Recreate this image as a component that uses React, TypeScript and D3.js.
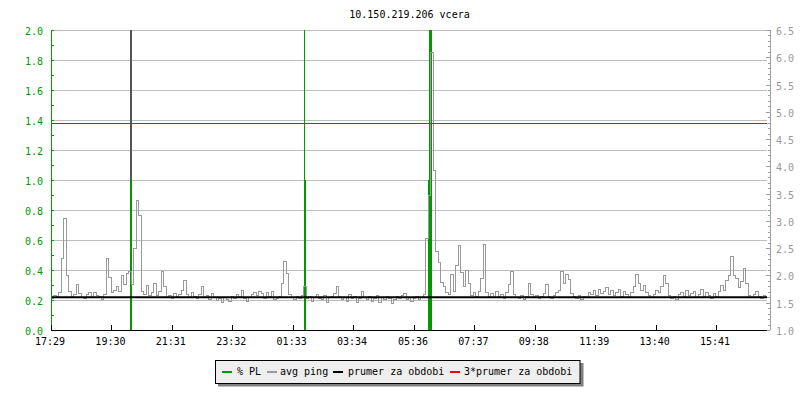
import React from "react";
import * as d3 from "d3";

const title = "10.150.219.206 vcera";

const xTickMinutes = [0, 121, 242, 363, 484, 605, 727, 848, 969, 1090, 1211, 1332];
const xTickLabels = ["17:29", "19:30", "21:31", "23:32", "01:33", "03:34", "05:36", "07:37", "09:38", "11:39", "13:40", "15:41"];
const leftTicks = [0, 0.2, 0.4, 0.6, 0.8, 1.0, 1.2, 1.4, 1.6, 1.8, 2.0];
const rightTicks = [1.0, 1.5, 2.0, 2.5, 3.0, 3.5, 4.0, 4.5, 5.0, 5.5, 6.0, 6.5];

const sampleMinutes = 5;
// avg ping (right axis), one value per 5-minute sample
const avgPing = [
  1.58, 1.64, 1.62, 1.70, 2.32, 3.05, 2.00, 1.72, 1.62, 1.66,
  1.84, 1.68, 1.60, 1.58, 1.66, 1.70, 1.60, 1.70, 1.64, 1.62,
  1.57, 1.66, 2.32, 1.98, 1.70, 1.74, 1.80, 1.72, 2.00, 1.85,
  2.04, 2.08, 1.85, 2.50, 3.38, 3.10, 1.72, 1.66, 1.82, 1.64,
  1.70, 1.86, 1.64, 1.72, 2.09, 1.80, 1.60, 1.64, 1.58, 1.68,
  1.62, 1.66, 1.74, 1.92, 1.66, 1.60, 1.70, 1.62, 1.58, 1.66,
  1.80, 1.60, 1.64, 1.57, 1.68, 1.60, 1.55, 1.58, 1.52, 1.60,
  1.56, 1.54, 1.62, 1.58, 1.66, 1.62, 1.73, 1.58, 1.54, 1.60,
  1.66, 1.70, 1.64, 1.72, 1.68, 1.58, 1.70, 1.62, 1.71, 1.56,
  1.58, 1.62, 1.87, 2.27, 2.04, 1.66, 1.60, 1.56, 1.62, 1.58,
  1.64, 1.81, 1.58, 1.62, 1.54, 1.60, 1.66, 1.58, 1.56, 1.64,
  1.52, 1.60, 1.62, 1.68, 1.81, 1.62, 1.56, 1.60, 1.54, 1.66,
  1.58, 1.62, 1.52, 1.58, 1.72, 1.60, 1.56, 1.62, 1.54, 1.58,
  1.64, 1.52, 1.60, 1.56, 1.62, 1.58, 1.50, 1.56, 1.62, 1.58,
  1.64, 1.68, 1.56, 1.60, 1.54, 1.58, 1.62, 1.56, 1.60, 1.66,
  2.68, 3.48, 6.10, 3.93, 2.45, 2.25, 1.88, 1.80, 1.70, 1.66,
  2.03, 1.72, 2.19, 2.56, 2.07, 1.80, 2.10, 1.86, 1.64, 1.70,
  1.62, 1.72, 1.95, 2.57, 1.70, 1.62, 1.68, 1.60, 1.72, 1.62,
  1.66, 1.58, 1.70, 1.84, 2.08, 1.66, 1.60, 1.58, 1.64, 1.56,
  1.62, 1.86, 1.66, 1.60, 1.64, 1.58, 1.62, 1.68, 1.84, 1.62,
  1.58, 1.64, 1.70, 1.74, 2.08, 1.86, 2.02, 1.94, 1.68, 1.62,
  1.58, 1.64, 1.56, 1.62, 1.60, 1.70, 1.66, 1.74, 1.64, 1.76,
  1.68, 1.72, 1.78, 1.66, 1.74, 1.64, 1.70, 1.76, 1.62, 1.72,
  1.66, 1.60, 1.70, 1.80, 2.02, 1.86, 1.74, 1.82, 1.70, 1.64,
  1.60, 1.66, 1.74, 1.70, 1.80, 2.00, 1.87, 1.64, 1.58, 1.62,
  1.56, 1.66, 1.70, 1.62, 1.74, 1.64, 1.68, 1.72, 1.60, 1.66,
  1.76, 1.62, 1.70, 1.64, 1.58, 1.68, 1.62, 1.72, 1.83, 1.74,
  1.92, 2.00, 2.35, 2.00, 1.95, 1.78, 1.90, 2.14, 1.86, 1.64,
  1.60, 1.66, 1.72, 1.62, 1.58, 1.64, 1.60,
];

// short off-scale ping spike (right axis)
const spikeMinute = [159];
const spikeWidthMinutes = [2];
const spikeValue = [9.0];

// % packet loss events (left axis)
const plStart = [158, 506.7, 506.7, 754.5, 757];
const plDuration = [4, 2, 4, 2.6, 6.6];
const plValue = [1.0, 5.0, 1.0, 1.0, 5.0];

const periodAvg = 1.6;
const periodAvgFactor = 3;

const legendLabels = ["% PL", "avg ping", "prumer za obdobi", "3*prumer za obdobi"];
const legendColors = ["#009a00", "#999999", "#000000", "#ff0000"];
const legendSwatchX = [222, 267, 333, 450];
const legendTextX = [237, 280, 348, 464];

const FONT = "'DejaVu Sans Mono', monospace";

export default function App() {
  const left = 51, right = 767, top = 30, bottom = 330;
  const x = d3.scaleLinear().domain([0, 1434]).range([left, right]);
  const yL = d3.scaleLinear().domain([0, 2]).range([bottom, top]);
  const yR = d3.scaleLinear().domain([1, 6.5]).range([bottom, top]);

  const pts: [number, number][] = avgPing.map((v, i) => [i * sampleMinutes, v]);
  pts.push([avgPing.length * sampleMinutes, avgPing[avgPing.length - 1]]);
  const line = d3
    .line<[number, number]>()
    .x((d) => Math.round(x(d[0])) + 0.5)
    .y((d) => Math.round(yR(d[1])) + 0.5)
    .curve(d3.curveStepAfter);

  const spikePaths = spikeMinute.map((m, i) => {
    const base = avgPing[Math.floor(m / sampleMinutes)];
    const p: [number, number][] = [
      [m, base],
      [m, spikeValue[i]],
      [m + spikeWidthMinutes[i], base],
      [m + spikeWidthMinutes[i], base],
    ];
    return line(p) || "";
  });

  const leftMinor = d3.range(0, 2.0001, 0.1);
  const rightMinor = d3.range(1, 6.5001, 0.1);

  return (
    <div style={{ position: "absolute", left: 0, top: 0 }}>
      <svg width={800} height={400} style={{ display: "block", background: "#fff" }}>
        <defs>
          <clipPath id="plot">
            <rect x={left} y={top} width={right - left + 1} height={bottom - top} />
          </clipPath>
        </defs>
        <rect x={0} y={0} width={800} height={400} fill="#fff" />
        <text x={409.5} y={18} textAnchor="middle" fontFamily={FONT} fontSize={10} fill="#000">
          {title}
        </text>

        {/* gridlines */}
        {leftTicks.map((t) => (
          <line key={"g" + t} x1={left} x2={right} y1={Math.round(yL(t)) + 0.5} y2={Math.round(yL(t)) + 0.5}
            stroke="#bdbdbd" strokeWidth={1} shapeRendering="crispEdges" />
        ))}

        {/* PL bars, avg ping, period average lines */}
        <g clipPath="url(#plot)">
          {spikePaths.map((d, i) => (
            <path key={"sp" + i} d={d} fill="none" stroke="#555555" strokeWidth={1} shapeRendering="crispEdges" />
          ))}
          {plStart.map((s, i) => (
            <rect key={"pl" + i} x={Math.round(x(s))} y={yL(Math.min(plValue[i], 2.1))}
              width={Math.max(1, Math.round(x(s + plDuration[i]) - x(s)))}
              height={bottom - yL(Math.min(plValue[i], 2.1))} fill="#009a00" shapeRendering="crispEdges" />
          ))}
          <path d={line(pts) || ""} fill="none" stroke="#999999" strokeWidth={1} shapeRendering="crispEdges" />
          <line x1={left} x2={right} y1={yR(periodAvg)} y2={yR(periodAvg)} stroke="#000" strokeWidth={2} />
          <line x1={left} x2={right} y1={Math.round(yR(periodAvg * periodAvgFactor)) + 0.5}
            y2={Math.round(yR(periodAvg * periodAvgFactor)) + 0.5} stroke="#ff0000" strokeWidth={1} shapeRendering="crispEdges" />
        </g>

        {/* left axis */}
        <line x1={left + 0.5} x2={left + 0.5} y1={top} y2={bottom - 5} stroke="#009a00" shapeRendering="crispEdges" />
        {leftMinor.map((t, i) => (
          <line key={"lm" + i} x1={left} x2={left + 3} y1={Math.round(yL(t)) + 0.5} y2={Math.round(yL(t)) + 0.5}
            stroke="#009a00" shapeRendering="crispEdges" />
        ))}
        {leftTicks.map((t) => (
          <text key={"lt" + t} x={43} y={yL(t) + 5} textAnchor="end" fontFamily={FONT} fontSize={10} fill="#009a00">
            {t.toFixed(1)}
          </text>
        ))}

        {/* right axis */}
        <line x1={770.5} x2={770.5} y1={top} y2={bottom} stroke="#a0a0a0" shapeRendering="crispEdges" />
        {rightMinor.map((t, i) => (
          <line key={"rm" + i} x1={i % 5 === 0 ? 766 : 768} x2={770} y1={Math.round(yR(t)) + 0.5} y2={Math.round(yR(t)) + 0.5}
            stroke="#a0a0a0" shapeRendering="crispEdges" />
        ))}
        {rightTicks.map((t) => (
          <text key={"rt" + t} x={776} y={yR(t) + 5} textAnchor="start" fontFamily={FONT} fontSize={10} fill="#999999">
            {t.toFixed(1)}
          </text>
        ))}

        {/* bottom axis */}
        <line x1={left} x2={right} y1={bottom + 0.5} y2={bottom + 0.5} stroke="#000" shapeRendering="crispEdges" />
        {xTickMinutes.map((m, i) => (
          <g key={"xt" + i}>
            <line x1={Math.round(x(m)) + 0.5} x2={Math.round(x(m)) + 0.5} y1={bottom - 5} y2={bottom}
              stroke="#000" shapeRendering="crispEdges" />
            <text x={x(m) - 1} y={345} textAnchor="middle" fontFamily={FONT} fontSize={10} fill="#000">
              {xTickLabels[i]}
            </text>
          </g>
        ))}

        {/* legend */}
        <rect x={218} y={363} width={365.5} height={23.5} fill="#808080" />
        <rect x={215.5} y={360.5} width={364.5} height={23} fill="#eeeeee" stroke="#000" strokeWidth={1} />
        {legendLabels.map((l, i) => (
          <g key={"lg" + i}>
            <line x1={legendSwatchX[i]} x2={legendSwatchX[i] + 10} y1={372} y2={372} stroke={legendColors[i]} strokeWidth={2} />
            <text x={legendTextX[i]} y={375} fontFamily={FONT} fontSize={10} fill="#000">
              {l}
            </text>
          </g>
        ))}
      </svg>
    </div>
  );
}
